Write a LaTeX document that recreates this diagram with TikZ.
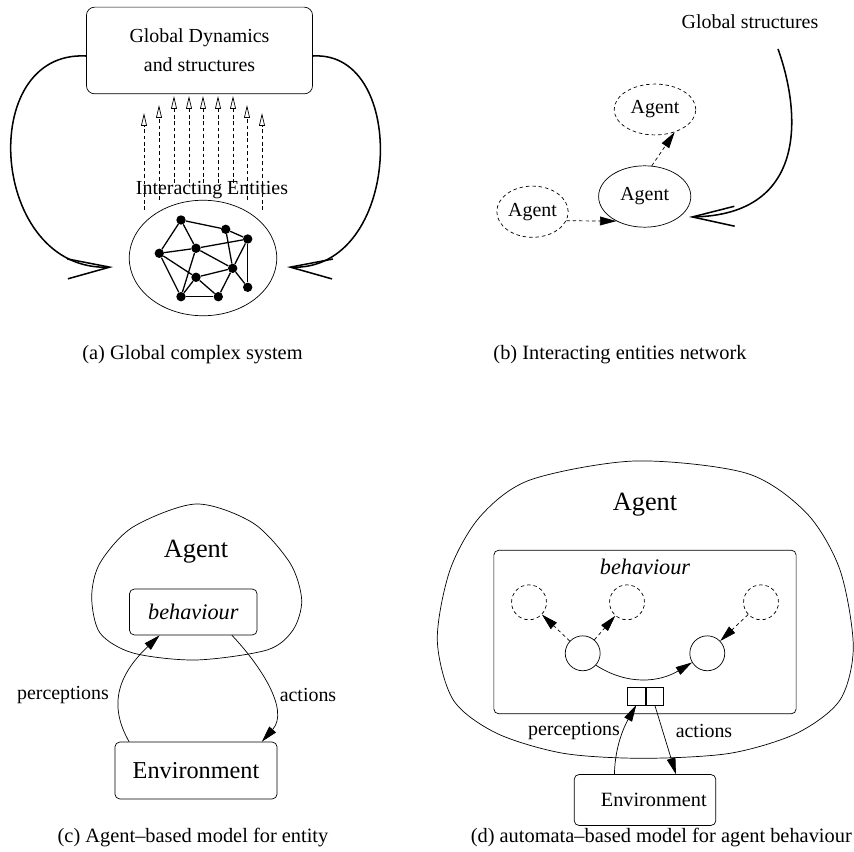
\documentclass[tikz,border=0pt]{standalone}
\usepackage{fontspec}
\setmainfont{Liberation Serif}
\usetikzlibrary{arrows.meta,positioning,shapes.geometric}

\newcommand{\fsz}[1]{\fontsize{#1}{#1}\selectfont}

\begin{document}
\begin{tikzpicture}[x=0.03cm, y=-0.03cm,
  txt/.style={inner sep=0pt, font=\fsz{17}},
  rbox/.style={draw, line width=0.6pt, rounded corners=4pt, inner sep=0pt},
  oval/.style={draw, ellipse, line width=0.6pt, inner sep=0pt, font=\fsz{17}},
  dashoval/.style={oval, dash pattern=on 3pt off 2.5pt},
  vtx/.style={circle, fill, inner sep=0pt, minimum size=8pt},
  link/.style={line width=1.1pt},
  rise/.style={-{Triangle[open, length=11pt, width=5pt]}, line width=0.6pt,
    dash pattern=on 3pt off 2.5pt},
  feedback/.style={-{Straight Barb[length=36pt, width=17pt]}, line width=1.3pt},
  flow/.style={-{Triangle[length=14pt, width=7.5pt]}, line width=0.6pt},
  dashflow/.style={flow, dash pattern=on 3pt off 2.5pt},
  stnode/.style={draw, circle, line width=0.6pt, minimum size=29.8pt, inner sep=0pt},
  ghost/.style={stnode, dash pattern=on 3pt off 2.5pt},
  port/.style={draw, line width=0.6pt, minimum width=15.3pt, minimum height=14.7pt,
    inner sep=0pt}
]
\useasboundingbox (0,0) rectangle (854,852);

% (a) global complex system
\node[rbox, rounded corners=7pt, minimum width=193pt, minimum height=74pt,
  align=center, font=\fontsize{17}{24.7}\selectfont] (gd) at (199.5,50.5)
  {Global Dynamics\\and structures};
\node[oval, minimum width=125.9pt, minimum height=98.6pt] (ents) at (203,258) {};
\node[txt] (entlbl) at (212,190) {Interacting Entities};
\node[vtx] (v1) at (181,220) {};
\node[vtx] (v2) at (225.7,229.3) {};
\node[vtx] (v3) at (247.7,239) {};
\node[vtx] (v4) at (196,248.3) {};
\node[vtx] (v5) at (159.3,253.3) {};
\node[vtx] (v6) at (232.7,268.3) {};
\node[vtx] (v7) at (196,277.3) {};
\node[vtx] (v8) at (247.7,287.3) {};
\node[vtx] (v9) at (181,296.7) {};
\node[vtx] (v10) at (218.3,296.7) {};
\foreach \a/\b in {v1/v2, v1/v4, v1/v5, v2/v3, v2/v6, v3/v4, v3/v6, v3/v8, v4/v5,
  v4/v6, v4/v9, v5/v7, v5/v9, v6/v7, v6/v8, v6/v10, v7/v9, v7/v10, v9/v10}
  \draw[link] (\a) -- (\b);
\foreach \x/\t/\b [count=\i] in {144/113/210, 159/105/200, 174/96/183, 189/96/183,
  203/96/183, 218/96/183, 233/96/183, 247/105/200, 262/113/210} {
  \coordinate (lo\i) at (\x,\b);
  \coordinate (hi\i) at (\x,\t);
  \draw[rise] (lo\i) -- (hi\i);
}
\coordinate (lin) at (113,267);
\coordinate (rin) at (287,267);
\draw[feedback] ([yshift=-4.7pt]gd.west) .. controls (-25,50) and (-10,272) .. (lin);
\draw[feedback] ([yshift=-4.7pt]gd.east) .. controls (410,50) and (402,272) .. (rin);
\node[txt, font=\fsz{17.4}] (capa) at (192.5,355) {(a) Global complex system};

% (b) interacting entities network
\node[txt] (gs) at (750,22) {Global structures};
\node[oval, minimum width=78.7pt, minimum height=52.4pt] (ag) at (644.7,196.5) {Agent};
\node[dashoval, minimum width=69.7pt, minimum height=43.4pt] (agup) at (655,109.5) {Agent};
\node[dashoval, minimum width=60.9pt, minimum height=43.7pt] (agl) at (532.5,211.7) {Agent};
\coordinate (gsout) at (778,49);
\coordinate (agin) at (689,217);
\draw[feedback] (gsout) .. controls (800,110) and (810,215) .. (agin);
\draw[dashflow] (agl.-15) -- (ag.-139);
\draw[dashflow] (ag.77) -- (agup.-49);
\node[txt, font=\fsz{17.4}] (capb) at (620,355) {(b) Interacting entities network};

% (c) agent-based model
\draw[line width=0.6pt] plot[smooth cycle] coordinates {(196,504) (253,523) (290,563)
  (301.7,600) (293,630) (267,650) (196,660) (133,653) (100,633) (91.7,597) (100,563)
  (133,527)};
\node[inner sep=0pt, font=\fsz{22.5}] (agc) at (196,551.7) {Agent};
\node[rbox, minimum width=108.9pt, minimum height=39.1pt, font=\itshape\fsz{19}]
  (bhc) at (193.3,612) {behaviour};
\node[rbox, minimum width=138.3pt, minimum height=48.5pt, font=\fsz{20.7}]
  (envc) at (196,770.5) {Environment};
\draw[flow] ([xshift=12.4pt]envc.north west) .. controls (108,705) and (118,675)
  .. ([xshift=26pt]bhc.south west);
\draw[flow] ([xshift=-21.8pt]bhc.south east) .. controls (260,665) and (290,710)
  .. ([xshift=-13.3pt]envc.north east);
\node[txt] (percc) at (63,695) {perceptions};
\node[txt] (actc) at (308,695) {actions};
\node[txt, font=\fsz{17.4}] (capc) at (193,838) {(c) Agent–based model for entity};

% (d) automata-based model
\draw[line width=0.6pt] plot[smooth cycle] coordinates {(635,461) (746.7,473.3)
  (806.7,513.3) (840,570) (853.3,646.7) (840,700) (796.7,733.3) (730,753.3)
  (643.3,758.3) (563.3,753.3) (496.7,733.3) (453.3,700) (437.3,640) (450,570)
  (480,516.7) (530,480)};
\node[inner sep=0pt, font=\fsz{22.5}] (agd) at (645,505) {Agent};
\node[rbox, minimum width=258pt, minimum height=139.5pt] (bhd) at (645,632) {};
\node[inner sep=0pt, font=\itshape\fsz{19}] (bhdlbl) at (645,567.3) {behaviour};
\node[ghost] (g1) at (529,602.3) {};
\node[ghost] (g2) at (627,602.3) {};
\node[ghost] (g3) at (761,602.3) {};
\node[stnode] (s1) at (582.7,653.3) {};
\node[stnode] (s2) at (707.3,653.3) {};
\draw[dashflow] (s1) -- (g1);
\draw[dashflow] (s1) -- (g2);
\draw[dashflow] (g3) -- (s2);
\draw[flow] (s1.-42) .. controls (628,686) and (660,682) .. (s2.-149);
\node[port] (pin) at (636.2,696.3) {};
\node[port, right=0pt of pin] (pout) {};
\node[rbox, minimum width=120.8pt, minimum height=43.4pt, font=\fsz{17.3}]
  (envd) at (645,800) {\hspace*{15pt}Environment};
\draw[flow] ([xshift=-26.1pt]envd.north) .. controls (615,745) and (625,725) .. (pin.south);
\draw[flow] (pout.south) -- ([xshift=26.4pt]envd.north);
\node[txt] (percd) at (574,730.7) {perceptions};
\node[txt] (actd) at (704,730.7) {actions};
\node[txt, font=\fsz{17.4}, anchor=east] (capd) at (852,838)
  {(d) automata–based model for agent behaviour};
\end{tikzpicture}
\end{document}
